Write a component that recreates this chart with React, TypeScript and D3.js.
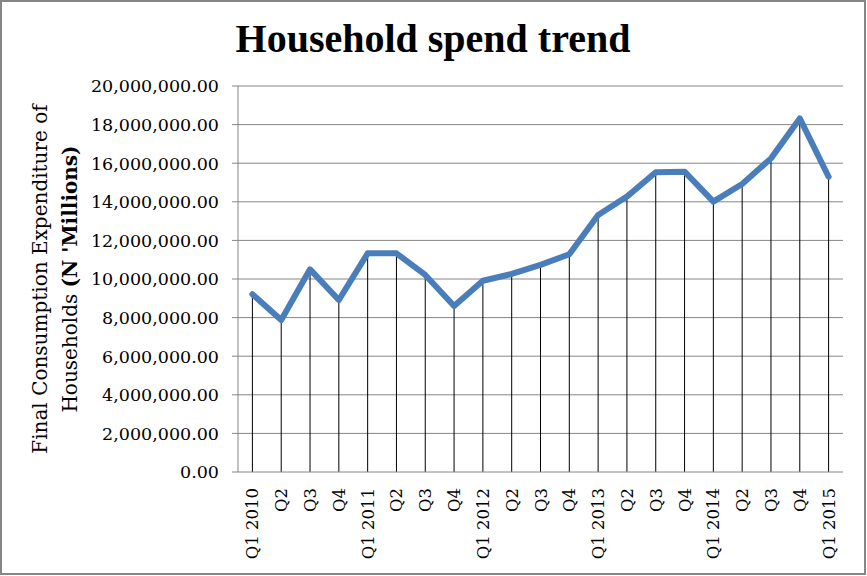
import React from "react";
import * as d3 from "d3";

const categories = [
  "Q1 2010", "Q2", "Q3", "Q4",
  "Q1 2011", "Q2", "Q3", "Q4",
  "Q1 2012", "Q2", "Q3", "Q4",
  "Q1 2013", "Q2", "Q3", "Q4",
  "Q1 2014", "Q2", "Q3", "Q4",
  "Q1 2015",
];

const spendValues = [
  9210000, 7880000, 10500000, 8910000,
  11330000, 11330000, 10210000, 8600000,
  9910000, 10260000, 10730000, 11280000,
  13320000, 14270000, 15530000, 15560000,
  14010000, 14920000, 16250000, 18320000,
  15300000,
];

const yTicks = [0, 2000000, 4000000, 6000000, 8000000, 10000000, 12000000, 14000000, 16000000, 18000000, 20000000];

const title = "Household spend trend";
const yTitleLine1 = "Final Consumption Expenditure of";
const yTitleLine2a = "Households ";
const yTitleLine2b = "(N 'Millions)";

const W = 867;
const H = 576;
const plot = { left: 238, right: 843, top: 86, bottom: 472 };
const serif = "'DejaVu Serif', serif";

export default function App() {
  const idx = categories.map((_, i) => i);
  const x = d3
    .scaleBand<number>()
    .domain(idx)
    .range([plot.left, plot.right])
    .paddingInner(0)
    .paddingOuter(0);
  const y = d3.scaleLinear().domain([0, 20000000]).range([plot.bottom, plot.top]);
  const cx = (i: number) => (x(i) as number) + x.bandwidth() / 2;
  const fmt = d3.format(",.2f");

  const line = d3
    .line<number>()
    .x((_, i) => cx(i))
    .y((d) => y(d));

  return (
    <svg
      width={W}
      height={H}
      style={{ position: "absolute", left: 0, top: 0, background: "#fff" }}
    >
      <rect x={0} y={0} width={W} height={H} fill="#fff" />
      <rect x={1} y={1} width={W - 3} height={H - 3} fill="none" stroke="#868686" strokeWidth={2} />

      <text
        x={433}
        y={52}
        textAnchor="middle"
        fontFamily="'Liberation Serif', serif"
        fontWeight="bold"
        fontSize={40}
        fill="#000"
      >
        {title}
      </text>

      {/* gridlines */}
      {yTicks.map((t) => (
        <line
          key={"g" + t}
          x1={plot.left - 6}
          x2={t === 0 ? plot.left : plot.right}
          y1={y(t)}
          y2={y(t)}
          stroke="#868686"
          strokeWidth={1}
        />
      ))}
      {/* y tick labels */}
      {yTicks.map((t) => (
        <text
          key={"yl" + t}
          x={219}
          y={y(t) + 6.3}
          textAnchor="end"
          fontFamily={serif}
          fontSize={17.5}
          fill="#000"
        >
          {fmt(t)}
        </text>
      ))}

      {/* y axis line */}
      <line x1={plot.left} x2={plot.left} y1={plot.top} y2={plot.bottom} stroke="#868686" strokeWidth={1} />

      {/* drop lines */}
      {spendValues.map((v, i) => (
        <line
          key={"d" + i}
          x1={cx(i)}
          x2={cx(i)}
          y1={y(v)}
          y2={plot.bottom}
          stroke="#000"
          strokeWidth={1}
        />
      ))}

      {/* x axis line */}
      <line x1={plot.left} x2={plot.right} y1={plot.bottom} y2={plot.bottom} stroke="#868686" strokeWidth={1} />

      {/* x labels */}
      {categories.map((c, i) => (
        <text
          key={"xl" + i}
          transform={`translate(${cx(i) + 6},488) rotate(-90)`}
          textAnchor="end"
          fontFamily={serif}
          fontSize={16.5}
          fill="#000"
        >
          {c}
        </text>
      ))}

      {/* series line */}
      <path
        d={line(spendValues) || ""}
        fill="none"
        stroke="#4A7EBB"
        strokeWidth={6}
        strokeLinejoin="round"
        strokeLinecap="round"
      />

      {/* y axis title */}
      <text
        transform="translate(47,279) rotate(-90)"
        textAnchor="middle"
        fontFamily={serif}
        fontSize={20}
        fill="#000"
      >
        {yTitleLine1}
      </text>
      <text
        transform="translate(77,279) rotate(-90)"
        textAnchor="middle"
        fontFamily={serif}
        fontSize={20}
        fill="#000"
      >
        {yTitleLine2a}
        <tspan fontWeight="bold">{yTitleLine2b}</tspan>
      </text>
    </svg>
  );
}
